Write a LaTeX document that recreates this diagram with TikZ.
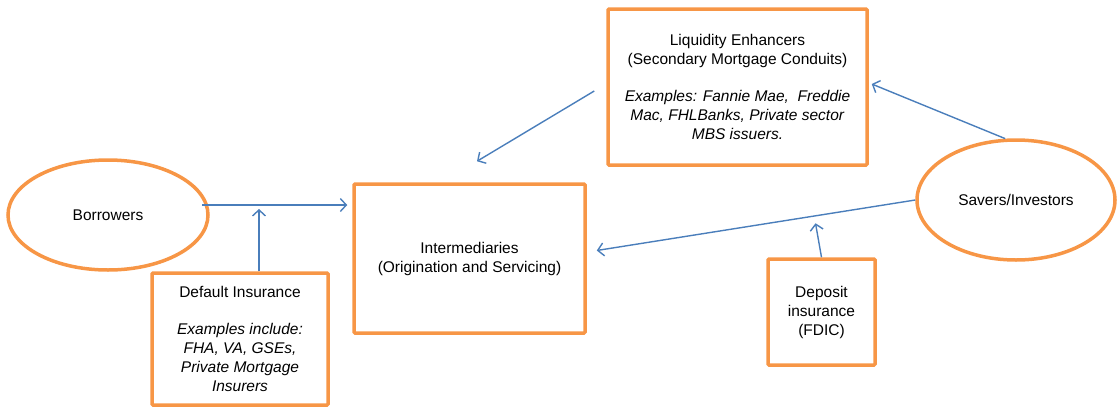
\documentclass[tikz,border=0pt]{standalone}
\usepackage{fontspec}
\setmainfont{Liberation Sans}
\usetikzlibrary{arrows.meta,shapes.geometric,calc}
\definecolor{orng}{RGB}{247,150,70}
\definecolor{arblue}{RGB}{74,126,187}
\begin{document}
\begin{tikzpicture}[x=1pt,y=-1pt,
  box/.style={draw=orng, line width=3.5pt, rectangle, rounded corners=1pt, align=center, inner sep=0pt,
    font=\fontsize{15.5}{19}\selectfont},
  oval/.style={draw=orng, line width=3.5pt, ellipse, inner sep=0pt, align=center,
    font=\fontsize{15.5}{19}\selectfont},
  conn/.style={draw=arblue, line width=1.4pt, -{Straight Barb[length=6pt,width=13pt,line width=1.4pt]}}]
\useasboundingbox (0,0) rectangle (1117,408);

\node[box, minimum width=259pt, minimum height=156pt] (liq) at (737.5,87)
  {Liquidity Enhancers\\(Secondary Mortgage Conduits)\\[18pt]
   \textit{Examples: Fannie Mae,~ Freddie}\\
   \textit{Mac, FHLBanks, Private sector}\\
   \textit{MBS issuers.}};
\node[box, minimum width=231pt, minimum height=149pt] (int) at (469.5,258.5)
  {Intermediaries\\(Origination and Servicing)};
\node[box, minimum width=176pt, minimum height=132pt] (def) at (240,339)
  {Default Insurance\\[18pt]
   \textit{Examples include:}\\
   \textit{FHA, VA, GSEs,}\\
   \textit{Private Mortgage}\\
   \textit{Insurers}};
\node[box, minimum width=107pt, minimum height=106pt] (dep) at (821.5,312)
  {Deposit\\insurance\\(FDIC)};
\node[oval, minimum width=200pt, minimum height=110pt] (bor) at (108,215) {Borrowers};
\node[oval, minimum width=198pt, minimum height=120pt] (sav) at (1016,200) {Savers/Investors};

\coordinate (bstart) at ($(bor.center)+(94,-10)$);
\coordinate (dstart) at ($(def.north)+(19,0)$);
\draw[conn, shorten >=5pt] (bstart) -- (bstart -| int.west);
\draw[conn, shorten >=4pt] (dstart) -- (dstart |- bstart);
\draw[conn] ($(liq.west)+(-12,4)$) -- ($(int.north)+(7.5,-21)$);
\draw[conn] (sav.100) -- ($(liq.east)+(3,-3)$);
\draw[conn] (sav.west) -- ($(int.east)+(10,-8)$);
\draw[conn] (dep.north) -- ($(dep.north)+(-6,-34)$);
\end{tikzpicture}
\end{document}
